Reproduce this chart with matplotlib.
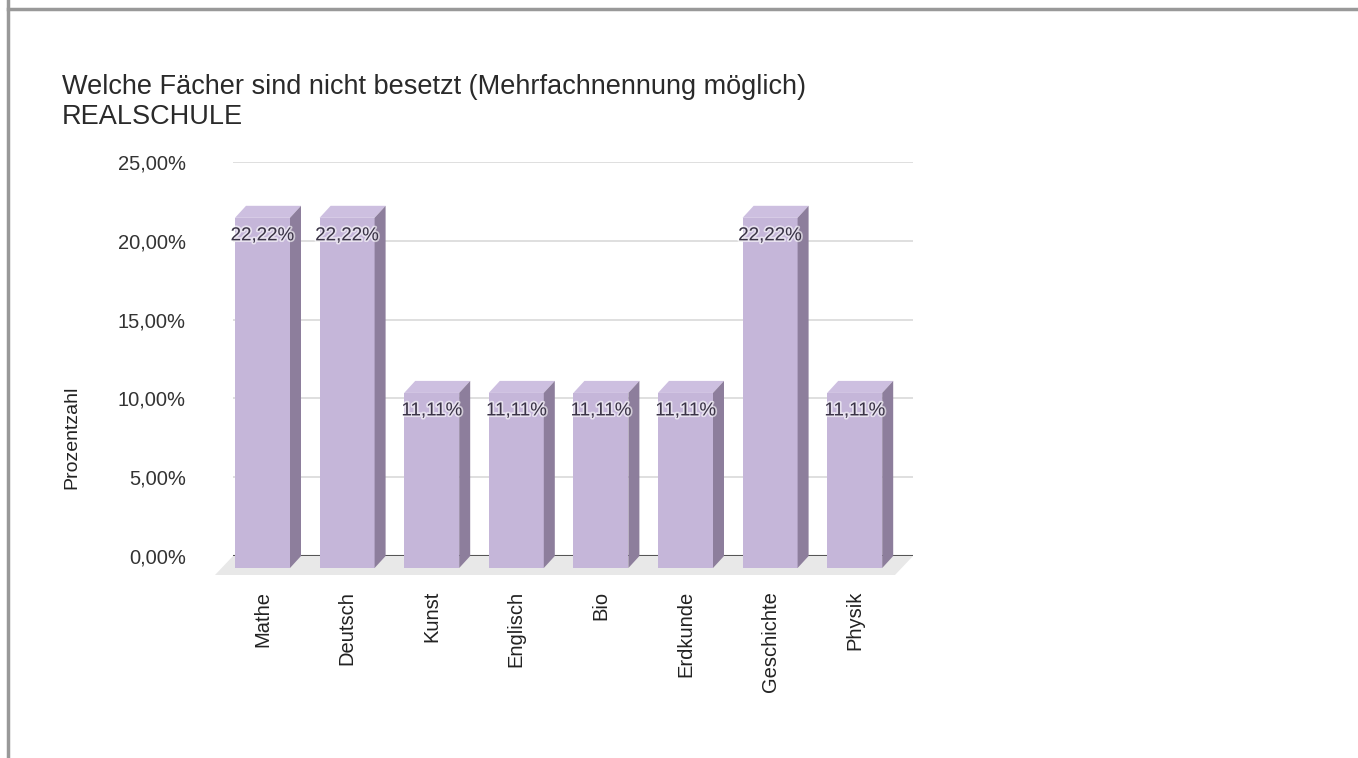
import matplotlib
matplotlib.use("Agg")
import matplotlib.pyplot as plt
import matplotlib.patheffects as pe
from matplotlib.patches import Polygon
from matplotlib.lines import Line2D
import numpy as np

plt.rcParams['font.family'] = ['Liberation Sans', 'DejaVu Sans']

# Daten
faecher = ['Mathe', 'Deutsch', 'Kunst', 'Englisch', 'Bio', 'Erdkunde', 'Geschichte', 'Physik']
anteile = [22.22, 22.22, 11.11, 11.11, 11.11, 11.11, 22.22, 11.11]
y_ticks = [0, 5, 10, 15, 20, 25]

titel_1 = 'Welche Fächer sind nicht besetzt (Mehrfachnennung möglich)'
titel_2 = 'REALSCHULE'

# Farben
FRONT = '#c5b6d9'
SIDE = '#8d7e9c'
TOP = '#cdbfe0'
GRID = '#d9d9d9'

W, H = 1358, 758
fig = plt.figure(figsize=(W / 100, H / 100), dpi=100)

# Achsenbereich in Pixeln (Rueckwand)
ax_l, ax_r, ax_t, ax_b = 233, 913, 162, 556
ax = fig.add_axes([ax_l / W, (H - ax_b) / H, (ax_r - ax_l) / W, (ax_b - ax_t) / H])

step = 84.6
c0 = 273.5
x0 = (ax_l - c0) / step
x1 = (ax_r - c0) / step
ax.set_xlim(x0, x1)
ax.set_ylim(0, 25)

px_x = (ax_r - ax_l) / (x1 - x0)
px_y = (ax_b - ax_t) / 25.0

# Tiefe der 3D-Saeulen
dx = 11 / px_x
dy = 12 / px_y
bw = 55 / px_x

x = np.arange(len(faecher))
xf = x - dx  # Mitte der Vorderseite

# Boden
fdx, fdy = 18 / px_x, 19 / px_y
floor = Polygon([(x0, 0), (x1, 0), (x1 - fdx, -fdy), (x0 - fdx, -fdy)],
                closed=True, facecolor='#e8e8e8', edgecolor='none', clip_on=False, zorder=1)
ax.add_patch(floor)

# Gitterlinien
for t in y_ticks[1:]:
    ax.axhline(t, color=GRID, linewidth=1.2, zorder=0)
ax.axhline(0, color='#555555', linewidth=1.5, zorder=1.5)

# Saeulen: Vorderseite
ax.bar(xf, anteile, width=bw, bottom=-dy, color=FRONT, edgecolor='none',
       zorder=3, clip_on=False)

for xi, v in zip(xf, anteile):
    l, r = xi - bw / 2, xi + bw / 2
    top = v - dy
    ax.add_patch(Polygon([(l, top), (r, top), (r + dx, v), (l + dx, v)],
                         closed=True, facecolor=TOP, edgecolor='none', zorder=3, clip_on=False))
    ax.add_patch(Polygon([(r, top), (r + dx, v), (r + dx, 0), (r, -dy)],
                         closed=True, facecolor=SIDE, edgecolor='none', zorder=3, clip_on=False))
    ax.text(xi, top - 18 / px_y, f'{v:.2f}%'.replace('.', ','), ha='center', va='center',
            fontsize=13.5, color='#3a3346', zorder=5,
            path_effects=[pe.withStroke(linewidth=2.5, foreground='white', alpha=0.6)])

ax.set_yticks(y_ticks)
ax.set_yticklabels([f'{t:.2f}%'.replace('.', ',') for t in y_ticks], fontsize=14.5, color='#333333')
ax.set_xticks(xf)
ax.set_xticklabels(faecher, rotation=90, fontsize=14.5, color='#222222')
ax.tick_params(axis='y', length=0, pad=34)
ax.tick_params(axis='x', length=0, pad=25)
for s in ax.spines.values():
    s.set_visible(False)
ax.patch.set_alpha(0)

fig.text(72 / W, 1 - 437 / H, 'Prozentzahl', rotation=90, ha='center', va='center',
         fontsize=14, color='#222222')
fig.text(62 / W, 1 - 94 / H, titel_1, ha='left', va='baseline', fontsize=19.5, color='#2a2a2a')
fig.text(62 / W, 1 - 124 / H, titel_2, ha='left', va='baseline', fontsize=19.5, color='#2a2a2a')

# Rahmen
fig.add_artist(Line2D([8 / W, 8 / W], [0, 1], color='#999999', linewidth=2.5))
fig.add_artist(Line2D([8 / W, 1], [1 - 9 / H, 1 - 9 / H], color='#999999', linewidth=2.5))

fig.savefig('out.png', dpi=100)
